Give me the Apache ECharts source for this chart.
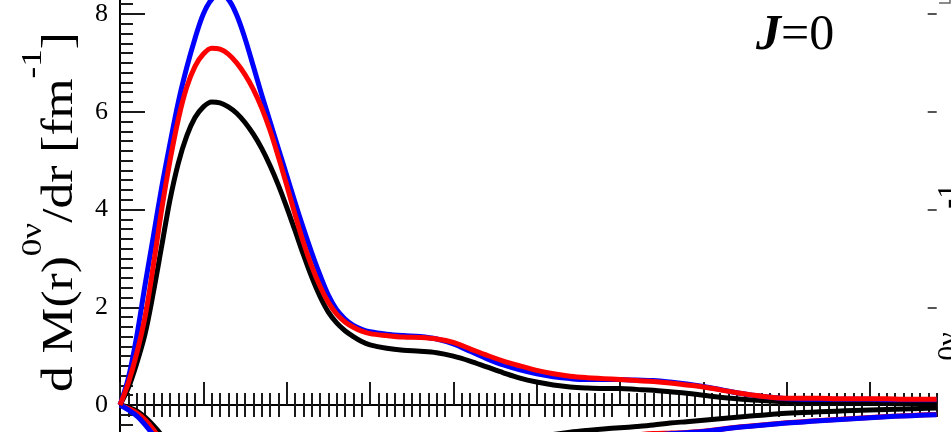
<!DOCTYPE html>
<html>
<head>
<meta charset="utf-8">
<script src="https://cdn.jsdelivr.net/npm/echarts@6/dist/echarts.min.js"></script>
<style>
  html, body { margin: 0; padding: 0; background: #fff; }
  #chart { width: 951px; height: 432px; }
</style>
</head>
<body>
<div id="chart"></div>
<script>
// radial distance r [fm]
const radius = [0, 0.1, 0.2, 0.3, 0.4, 0.5, 0.6, 0.7, 0.8, 0.9, 1.0, 1.1, 1.2, 1.3, 1.4, 1.5, 1.6, 1.7, 1.8, 1.9,
  2.0, 2.1, 2.2, 2.3, 2.4, 2.5, 2.6, 2.7, 2.8, 2.9, 3.0,
  3.2, 3.4, 3.6, 3.8, 4.0, 4.2, 4.4, 4.6, 4.8, 5.0, 5.2, 5.4, 5.6, 5.8, 6.0, 6.2, 6.4, 6.6, 6.8,
  7.0, 7.2, 7.4, 7.6, 7.8, 8.0, 8.2, 8.4, 8.6, 8.8, 9.0, 9.2, 9.4, 9.6, 9.8];

// positive parts of dM/dr
const blackPos = [0, 0.35, 0.85, 1.45, 2.3, 3.25, 4.2, 4.95, 5.5, 5.88, 6.1, 6.2, 6.18, 6.1, 5.97, 5.78, 5.54, 5.25, 4.9, 4.5,
  4.05, 3.57, 3.08, 2.62, 2.22, 1.9, 1.68, 1.52, 1.4, 1.3, 1.23,
  1.16, 1.12, 1.1, 1.07, 1.0, 0.9, 0.78, 0.66, 0.55, 0.47, 0.41, 0.37, 0.35, 0.34, 0.34, 0.32, 0.3, 0.27, 0.24,
  0.2, 0.16, 0.13, 0.1, 0.08, 0.07, 0.06, 0.05, 0.05, 0.04, 0.04, 0.04, 0.03, 0.03, 0.03];
const redPos = [0, 0.45, 1.05, 1.8, 2.85, 4.0, 5.0, 5.85, 6.5, 6.93, 7.18, 7.3, 7.28, 7.18, 7.0, 6.76, 6.46, 6.08, 5.62, 5.08,
  4.5, 3.9, 3.33, 2.84, 2.43, 2.1, 1.86, 1.7, 1.59, 1.51, 1.46,
  1.42, 1.39, 1.38, 1.35, 1.28, 1.15, 1.02, 0.9, 0.8, 0.71, 0.64, 0.59, 0.56, 0.54, 0.52, 0.5, 0.48, 0.45, 0.41,
  0.37, 0.31, 0.25, 0.2, 0.16, 0.14, 0.14, 0.14, 0.13, 0.13, 0.13, 0.13, 0.12, 0.12, 0.12];
const bluePos = [0, 0.55, 1.4, 2.45, 3.45, 4.45, 5.35, 6.2, 6.9, 7.5, 8.0, 8.3, 8.4, 8.3, 7.98, 7.5, 6.93, 6.35, 5.8, 5.25,
  4.7, 4.15, 3.62, 3.12, 2.66, 2.25, 1.95, 1.76, 1.63, 1.55, 1.5,
  1.45, 1.42, 1.4, 1.35, 1.25, 1.1, 0.95, 0.82, 0.72, 0.64, 0.58, 0.54, 0.52, 0.52, 0.52, 0.51, 0.5, 0.47, 0.43,
  0.38, 0.32, 0.25, 0.2, 0.16, 0.13, 0.12, 0.12, 0.12, 0.12, 0.12, 0.11, 0.11, 0.11, 0.11];

// negative parts of dM/dr
const blackNeg = [0, -0.05, -0.12, -0.25, -0.42, -0.62, -0.88, -1.12, -1.32, -1.48, -1.58, -1.64, -1.66, -1.64, -1.6, -1.55, -1.5, -1.45, -1.4, -1.36,
  -1.32, -1.29, -1.26, -1.23, -1.2, -1.17, -1.14, -1.11, -1.08, -1.05, -1.02,
  -0.98, -0.95, -0.92, -0.88, -0.84, -0.8, -0.76, -0.72, -0.69, -0.66, -0.6, -0.555, -0.52, -0.49, -0.465, -0.44, -0.41, -0.37, -0.34,
  -0.31, -0.28, -0.25, -0.22, -0.195, -0.17, -0.155, -0.14, -0.125, -0.11, -0.1, -0.09, -0.08, -0.07, -0.06];
const redNeg = [0, -0.07, -0.16, -0.3, -0.5, -0.75, -1.02, -1.3, -1.52, -1.7, -1.82, -1.88, -1.9, -1.88, -1.84, -1.79, -1.74, -1.69, -1.64, -1.59,
  -1.55, -1.51, -1.47, -1.44, -1.41, -1.38, -1.35, -1.32, -1.29, -1.26, -1.23,
  -1.18, -1.13, -1.09, -1.05, -1.01, -0.97, -0.93, -0.89, -0.85, -0.8, -0.76, -0.72, -0.69, -0.665, -0.64, -0.61, -0.585, -0.575, -0.56,
  -0.535, -0.495, -0.455, -0.425, -0.395, -0.365, -0.34, -0.315, -0.295, -0.275, -0.255, -0.235, -0.22, -0.205, -0.195];
const blueNeg = [0, -0.1, -0.22, -0.4, -0.62, -0.9, -1.2, -1.5, -1.75, -1.95, -2.1, -2.18, -2.2, -2.18, -2.12, -2.05, -1.98, -1.92, -1.86, -1.8,
  -1.75, -1.7, -1.66, -1.62, -1.58, -1.54, -1.5, -1.47, -1.44, -1.41, -1.38,
  -1.33, -1.28, -1.23, -1.18, -1.13, -1.08, -1.03, -0.98, -0.93, -0.88, -0.83, -0.79, -0.75, -0.71, -0.68, -0.65, -0.62, -0.59, -0.565,
  -0.54, -0.5, -0.46, -0.43, -0.4, -0.37, -0.345, -0.32, -0.3, -0.28, -0.26, -0.24, -0.225, -0.21, -0.2];

// axis ticks and labels
const yTickLabels = [0, 2, 4, 6, 8];
const xMajorTicks = [0, 1, 2, 3, 4, 5, 6, 7, 8, 9];
const xMinorTicks = [];
for (let i = 1; i <= 98; i++) if (i % 10 !== 0) xMinorTicks.push(i / 10);
const yMinorTicks = [];
for (let i = -2; i <= 41; i++) if (i % 10 !== 0) yMinorTicks.push(i / 5);

const xRange = { min: 0, max: 9.8 };
const yRange = { min: -0.552, max: 8.286 };
const serif = '"Liberation Serif", "DejaVu Serif", serif';

const pairs = (ys) => radius.map((r, i) => [r, ys[i]]);

function curve(name, ys, color) {
  return {
    name, type: 'line', data: pairs(ys), smooth: 0.35, showSymbol: false, clip: true,
    lineStyle: { color, width: 5, join: 'round' }, emphasis: { disabled: true }
  };
}

function zeroAxis(ticks, inside, len, withLine) {
  return {
    type: 'value', ...xRange, z: 3,
    axisLine: { show: withLine, onZero: true, onZeroAxisIndex: 0, lineStyle: { color: '#000', width: 2 } },
    axisTick: { show: true, inside, length: len, customValues: ticks, lineStyle: { color: '#1a1a1a', width: 2 } },
    axisLabel: { show: false }, splitLine: { show: false }
  };
}

// rotated axis title with superscripts
function axisTitle(cx, cy, stretch) {
  return {
    type: 'text', x: cx, y: cy, rotation: Math.PI / 2, scaleX: stretch, silent: true,
    style: {
      text: '{m|d M(r)}{s|0ν}{m|/dr [fm}{s|-1}{m|]}',
      align: 'center', verticalAlign: 'middle', fill: '#000',
      rich: {
        m: { fontFamily: serif, fontSize: 44, lineHeight: 64, verticalAlign: 'bottom', fill: '#000' },
        s: { fontFamily: serif, fontSize: 30, lineHeight: 30, verticalAlign: 'top', fill: '#000' }
      }
    }
  };
}

const chart = echarts.init(document.getElementById('chart'), null, { renderer: 'canvas' });
chart.setOption({
  animation: false,
  backgroundColor: '#fff',
  grid: { left: 120, right: 14.3, top: 0, bottom: 0, containLabel: false },
  xAxis: [
    zeroAxis(xMajorTicks, true, 23, true),
    zeroAxis(xMajorTicks, false, 23, false),
    zeroAxis(xMinorTicks, true, 12, false),
    zeroAxis(xMinorTicks, false, 12, false)
  ],
  yAxis: [
    {
      type: 'value', ...yRange, position: 'left',
      axisLine: { show: true, onZero: false, lineStyle: { color: '#000', width: 2 } },
      axisTick: { show: true, inside: true, length: 25, customValues: yTickLabels, lineStyle: { color: '#1a1a1a', width: 2 } },
      axisLabel: { customValues: yTickLabels, margin: 12, color: '#000', fontFamily: serif, fontSize: 26 },
      splitLine: { show: false }
    },
    {
      type: 'value', ...yRange, position: 'left',
      axisLine: { show: false, onZero: false },
      axisTick: { show: true, inside: true, length: 13, customValues: yMinorTicks, lineStyle: { color: '#1a1a1a', width: 2 } },
      axisLabel: { show: false }, splitLine: { show: false }
    },
    {
      type: 'value', ...yRange, position: 'right',
      axisLine: { show: false, onZero: false },
      axisTick: { show: true, inside: true, length: 9, customValues: yTickLabels, lineStyle: { color: '#555', width: 2 } },
      axisLabel: { show: false }, splitLine: { show: false }
    }
  ],
  series: [
    curve('black (negative)', blackNeg, '#000000'),
    curve('red (negative)', redNeg, '#ff0000'),
    curve('blue (negative)', blueNeg, '#0000ff'),
    curve('black', blackPos, '#000000'),
    curve('blue', bluePos, '#0000ff'),
    curve('red', redPos, '#ff0000')
  ],
  graphic: [
    axisTitle(50, 212, 1.17),
    axisTitle(966, 323, 1.0),
    {
      // corner of the neighbouring panel frame
      type: 'polyline', silent: true,
      shape: { points: [[939, 3], [950, 3], [950, 0]] },
      style: { stroke: '#666', lineWidth: 1.5, fill: null }
    },
    {
      type: 'text', x: 756, y: 36, silent: true,
      style: {
        text: '{j|J}{e|=0}', align: 'left', verticalAlign: 'middle', fill: '#000',
        rich: {
          j: { fontFamily: serif, fontStyle: 'italic', fontWeight: 'bold', fontSize: 50, fill: '#000' },
          e: { fontFamily: serif, fontSize: 50, fill: '#000' }
        }
      }
    }
  ]
});
</script>
</body>
</html>
